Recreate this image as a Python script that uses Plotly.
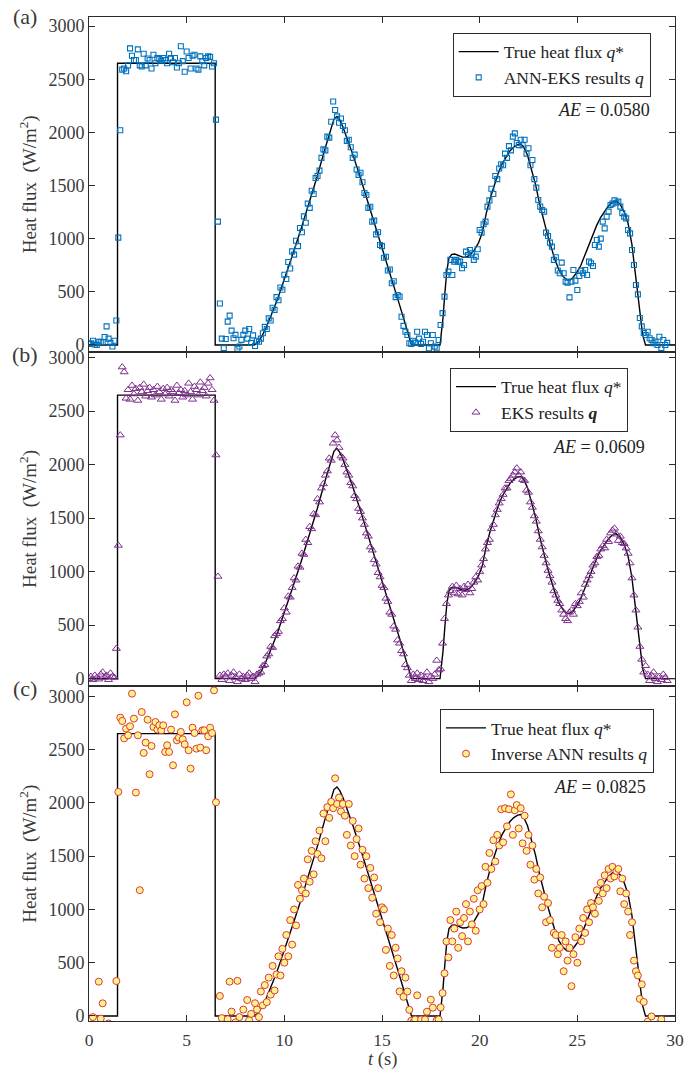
import plotly.graph_objects as go
from plotly.subplots import make_subplots

# ---- true heat flux q* (knots of the reference curve) ----
true_t = [0, 1.46, 1.46, 6.46, 6.46, 8.46, 8.66, 8.86, 9.06, 9.26, 9.46, 9.67, 9.87,
          10.07, 10.47, 10.87, 11.28, 11.68, 12.08, 12.38, 12.54, 12.69, 12.84, 12.99,
          13.19, 13.49, 13.89, 14.3, 14.7, 15.1, 15.51, 15.91, 16.21, 16.51, 17.97,
          18.12, 18.22, 18.32, 18.43, 18.58, 18.73, 18.93, 19.13, 19.33, 19.53, 19.73,
          19.94, 20.14, 20.34, 20.54, 20.74, 20.94, 21.14, 21.35, 21.55, 21.75, 21.95,
          22.1, 22.25, 22.45, 22.65, 22.86, 23.06, 23.26, 23.46, 23.66, 23.86, 24.06,
          24.27, 24.47, 24.62, 24.77, 24.97, 25.17, 25.37, 25.57, 25.78, 25.98, 26.18,
          26.38, 26.58, 26.78, 26.98, 27.19, 27.39, 27.59, 27.79, 27.99, 28.19, 28.34,
          28.49, 30]
true_q = [0, 0, 2650, 2650, 0, 0, 30, 85, 160, 245, 340, 440, 545,
          655, 875, 1100, 1340, 1585, 1845, 2040, 2125, 2150, 2115, 2055,
          1960, 1800, 1575, 1335, 1095, 855, 610, 370, 185, 0, 0,
          250, 490, 700, 820, 852, 855, 840, 826, 828, 850, 895,
          960, 1060, 1240, 1380, 1500, 1610, 1700, 1770, 1825, 1862, 1885,
          1890, 1865, 1785, 1660, 1510, 1335, 1175, 1045, 920, 800, 705,
          645, 612, 610, 632, 680, 745, 840, 940, 1035, 1120, 1195,
          1255, 1305, 1340, 1355, 1325, 1255, 1150, 950, 640, 310, 100,
          0, 0]

# ---- estimated results, sampled every 0.1 s from t = 0 ----
dt = 0.1

ann_eks_q = [
    10, 15, 40, 5, 0, 30, 30, 25, 75, 175,
    60, 20, -15, 40, 230, 1010, 2020, 2590, 2600, 2575,
    2630, 2790, 2720, 2680, 2680, 2780, 2630, 2620, 2740, 2630,
    2695, 2680, 2600, 2730, 2650, 2700, 2690, 2675, 2700, 2680,
    2650, 2740, 2700, 2660, 2700, 2610, 2650, 2810, 2670, 2570,
    2760, 2700, 2600, 2720, 2730, 2600, 2590, 2715, 2670, 2630,
    2700, 2715, 2710, 2620, 2650, 2120, 1160, 390, 60, -30,
    56, 220, 276, 135, 63, 95, -35, -15, 48, 95,
    135, 60, 150, 20, 90, -10, 40, 30, 60, 110,
    170, 150, 250, 230, 350, 330, 450, 420, 540, 520,
    660, 620, 780, 720, 880, 850, 980, 930, 1100, 1060,
    1210, 1150, 1330, 1290, 1450, 1420, 1570, 1590, 1640, 1760,
    1840, 1830, 1960, 1950, 2100, 2290, 2210, 2150, 2090, 2130,
    2060, 2020, 1920, 1930, 1860, 1760, 1790, 1650, 1600, 1620,
    1530, 1430, 1410, 1290, 1300, 1160, 1170, 1040, 1060, 940,
    930, 820, 830, 700, 710, 580, 600, 450, 470, 455,
    266, 180, 125, 94, 16, 10, 40, 22, 125, 60,
    10, 30, 125, 94, -31, 16, 94, -16, -31, 47,
    188, 300, 455, 658, 690, 800, 658, 784, 800, 784,
    784, 721, 752, 878, 846, 893, 862, 800, 831, 900,
    1081, 1057, 1135, 1160, 1301, 1360, 1470, 1420, 1590, 1560,
    1660, 1700, 1690, 1800, 1760, 1870, 1830, 1960, 1990, 1900,
    1880, 1930, 1880, 1930, 1800, 1850, 1690, 1740, 1560, 1480,
    1364, 1301, 1270, 1254, 1057, 1025, 963, 925, 800, 825,
    700, 674, 775, 674, 596, 586, 448, 596, 705, 605,
    517, 649, 699, 674, 705, 658, 784, 768, 743, 940,
    987, 925, 1000, 1160, 1097, 1207, 1254, 1317, 1330, 1360,
    1338, 1348, 1301, 1240, 1207, 1191, 1081, 1050, 893, 752,
    564, 476, 254, 175, 113, 94, 125, 63, 47, 16,
    31, 0, 78, -30, 47, 0, 20,
]

eks_q = [
    0, 20, -10, 30, 10, -5, 40, 60, 10, 30,
    -10, 50, 20, 10, 281, 1245, 2276, 2912, 2866, 2620,
    2700, 2610, 2740, 2660, 2710, 2600, 2720, 2680, 2750, 2640,
    2690, 2720, 2630, 2700, 2650, 2730, 2680, 2610, 2710, 2660,
    2720, 2640, 2700, 2680, 2600, 2740, 2670, 2700, 2630, 2690,
    2650, 2760, 2680, 2610, 2730, 2700, 2650, 2770, 2690, 2720,
    2640, 2760, 2810, 2700, 2600, 2090, 955, 30, -10, 40,
    20, 50, -20, 30, 60, 10, -30, 40, 0, 20,
    -10, 30, 50, 0, 20, -30, 40, 50, 60, 120,
    130, 210, 230, 300, 290, 400, 420, 440, 540, 560,
    660, 620, 770, 760, 850, 940, 920, 1050, 1040, 1170,
    1160, 1300, 1270, 1420, 1400, 1540, 1530, 1680, 1650, 1780,
    1820, 1900, 1940, 2060, 2040, 2200, 2276, 2229, 2160, 2080,
    2060, 2000, 1930, 1900, 1830, 1800, 1710, 1680, 1590, 1560,
    1500, 1440, 1360, 1330, 1230, 1200, 1110, 1070, 990, 950,
    870, 850, 750, 720, 620, 600, 490, 460, 360, 330,
    260, 230, 130, 100, 30, -20, 40, 0, 50, -10,
    30, -20, 10, 60, -30, 20, 0, 40, 170, 80,
    90, 330, 560, 700, 780, 820, 860, 800, 870, 790,
    840, 780, 860, 830, 880, 800, 840, 900, 950, 920,
    1000, 1060, 1120, 1210, 1270, 1300, 1400, 1440, 1530, 1580,
    1640, 1680, 1720, 1780, 1780, 1850, 1870, 1900, 1930, 1967,
    1900, 1930, 1860, 1850, 1760, 1740, 1650, 1600, 1520, 1470,
    1380, 1300, 1230, 1150, 1080, 1010, 960, 900, 820, 780,
    730, 700, 640, 600, 560, 540, 620, 640, 600, 700,
    680, 720, 800, 760, 880, 920, 960, 1000, 1060, 1080,
    1140, 1150, 1210, 1240, 1220, 1300, 1280, 1360, 1386, 1405,
    1350, 1290, 1330, 1270, 1260, 1220, 1170, 1080, 940, 780,
    640, 480, 300, 180, 60, 120, 40, -20, 30, 60,
    0, -30, 20, -10, 40, 10, -20,
]

inverse_ann_q = [
    -150, -80, -10, -200, -90, 322, -25, 119, -160, -110,
    -70, -230, -140, -95, 328, 2103, 2800, 2769, 2606, 2697,
    2634, 2719, 3025, 2791, 2097, 2634, 1181, 2853, 2469, 2566,
    2781, 2269, 2534, 2713, 2759, 2688, 2728, 2681, 2728, 2478,
    2541, 2478, 2688, 2353, 2831, 2587, 2613, 2666, 2597, 2550,
    2944, 2494, 2322, 2706, 2656, 2509, 3006, 2519, 2681, 2681,
    2494, 2625, 2706, 2656, 3056, 2006, -150, 188, -20, -200,
    -100, -30, 322, 41, -150, -60, 330, -10, -200, 60,
    -80, 150, -40, 20, -120, 120, 60, -10, 230, 100,
    290, 130, 360, 200, 470, 240, 390, 560, 380, 630,
    500, 760, 560, 900, 670, 1000, 850, 1230, 1100, 1180,
    1290, 1150, 1470, 1260, 1550, 1330, 1640, 1520, 1740, 1480,
    1900, 1640, 1960, 1860, 2010, 1950, 2231, 1990, 2050, 1920,
    1990, 1880, 1700, 1990, 1600, 1830, 1500, 1660, 1760, 1420,
    1560, 1290, 1500, 1200, 1390, 1110, 1300, 960, 1200, 880,
    1020, 1000, 620, 820, 470, 760, 380, 640, 540, 230,
    420, 180, 360, 230, 58, -45, -60, -33, 194, -120,
    -33, -80, -33, 40, -150, 153, 78, -90, -40, -33,
    80, 215, 400, 700, 550, 900, 700, 820, 980, 640,
    880, 750, 920, 1050, 700, 980, 860, 1100, 800, 1180,
    1000, 1220, 1050, 1400, 1250, 1530, 1380, 1650, 1450, 1700,
    1600, 1940, 1630, 1950, 1780, 1940, 2080, 1700, 1930, 1980,
    1760, 1950, 1620, 1880, 1550, 1700, 1420, 1600, 1280, 1380,
    1150, 1300, 1020, 1120, 880, 1060, 900, 640, 780, 760,
    580, 640, 760, 420, 700, 520, 640, 280, 580, 740,
    500, 820, 700, 920, 780, 1000, 880, 1060, 1020, 960,
    1180, 1080, 1250, 1150, 1320, 1200, 1380, 1290, 1400, 1310,
    1360, 1380, 1170, 1290, 1050, 1150, 980, 760, 880, 520,
    420, 380, 160, 297, 132, -100, -54, -150, -4, -90,
    -200, -80, -150, -33, -120, -250,
]


def sample_times(values):
    return [round(i * dt, 1) for i in range(len(values))]


panel_labels = ["(a)", "(b)", "(c)"]
ae_labels = ["0.0580", "0.0609", "0.0825"]
result_names = ["ANN-EKS results <i>q</i>", "EKS results <b><i>q</i></b>",
                "Inverse ANN results <i>q</i>"]
y_ticks = [0, 500, 1000, 1500, 2000, 2500, 3000]
x_ticks = [0, 5, 10, 15, 20, 25, 30]

FONT = "Liberation Serif"
INK = "#2b2b2b"
GREY = "#3a3a3a"
W, H = 685, 1074
ML, MR, MT, MB = 89, 10, 17, 53
PW, PH = W - ML - MR, H - MT - MB


def px(x):
    return (x - ML) / PW


def py(y):
    return (H - MB - y) / PH


fig = make_subplots(rows=3, cols=1, shared_xaxes=True, vertical_spacing=0)

series = [ann_eks_q, eks_q, inverse_ann_q]
markers = [
    dict(symbol="square-open", size=5, color="#0072BD", line=dict(width=1.1, color="#0072BD")),
    dict(symbol="triangle-up-open", size=7, color="#7E2F8E", line=dict(width=1, color="#7E2F8E")),
    dict(symbol="circle", size=7, color="#FFF38A", line=dict(width=1, color="#D9393F")),
]
legend_ids = ["legend", "legend2", "legend3"]

for i in range(3):
    fig.add_trace(go.Scatter(x=true_t, y=true_q, mode="lines",
                             line=dict(color="black", width=1.4),
                             name="True heat flux <i>q</i>*", legend=legend_ids[i]),
                  row=i + 1, col=1)
    fig.add_trace(go.Scatter(x=sample_times(series[i]), y=series[i], mode="markers",
                             marker=markers[i], name=result_names[i],
                             legend=legend_ids[i]),
                  row=i + 1, col=1)

y_ranges = [[-63, 3085], [-72, 3056], [-47, 3094]]
for i in range(3):
    fig.update_yaxes(row=i + 1, col=1, range=y_ranges[i], tickvals=y_ticks,
                     ticks="inside", ticklen=6, tickwidth=1, tickcolor=INK,
                     showline=True, linecolor=INK, linewidth=1, mirror="allticks",
                     showgrid=False, zeroline=False, automargin=False,
                     tickfont=dict(family=FONT, size=18, color=GREY),
                     title=dict(text="Heat flux  (W/m<sup>2</sup>)",
                                font=dict(family=FONT, size=19, color=GREY),
                                standoff=6))
fig.update_xaxes(range=[0, 30], tickvals=x_ticks, ticks="inside", ticklen=6,
                 tickwidth=1, tickcolor=INK, showline=True, linecolor=INK,
                 linewidth=1, mirror="allticks", showgrid=False, zeroline=False,
                 automargin=False, ticklabelstandoff=3,
                 tickfont=dict(family=FONT, size=17.5, color=GREY))

legend_pos = [(452.7, 32.7), (450, 367.7), (440, 709)]
legend_style = dict(xanchor="left", yanchor="top", bgcolor="white",
                    bordercolor=INK, borderwidth=1,
                    font=dict(family=FONT, size=17.5, color="#222222"),
                    itemwidth=40)
fig.update_layout(
    legend=dict(x=px(legend_pos[0][0]), y=py(legend_pos[0][1]), **legend_style),
    legend2=dict(x=px(legend_pos[1][0]), y=py(legend_pos[1][1]), **legend_style),
    legend3=dict(x=px(legend_pos[2][0]), y=py(legend_pos[2][1]), **legend_style),
)

label_y = [16.5, 354, 688.5]
ae_pos = [(651.7, 110), (646.7, 446.7), (648, 786.7)]
for i in range(3):
    fig.add_annotation(x=px(25), y=py(label_y[i]), xref="paper", yref="paper",
                       text=panel_labels[i], showarrow=False, xanchor="center",
                       yanchor="middle",
                       font=dict(family=FONT, size=22, color=GREY))
    fig.add_annotation(x=px(ae_pos[i][0]), y=py(ae_pos[i][1]), xref="paper",
                       yref="paper", text="<i>AE</i> = " + ae_labels[i],
                       showarrow=False, xanchor="right", yanchor="middle",
                       font=dict(family=FONT, size=18, color="#222222"))

# shared x-axis title under the bottom panel
fig.add_annotation(x=0.5, y=py(1059), xref="paper", yref="paper",
                   text="<i>t</i> (s)", showarrow=False, xanchor="center",
                   yanchor="middle", font=dict(family=FONT, size=18.5, color=GREY))

fig.update_layout(width=W, height=H, margin=dict(l=ML, r=MR, t=MT, b=MB, autoexpand=False),
                  plot_bgcolor="white", paper_bgcolor="white",
                  font=dict(family=FONT, color=INK))

fig.write_html("out.html")
